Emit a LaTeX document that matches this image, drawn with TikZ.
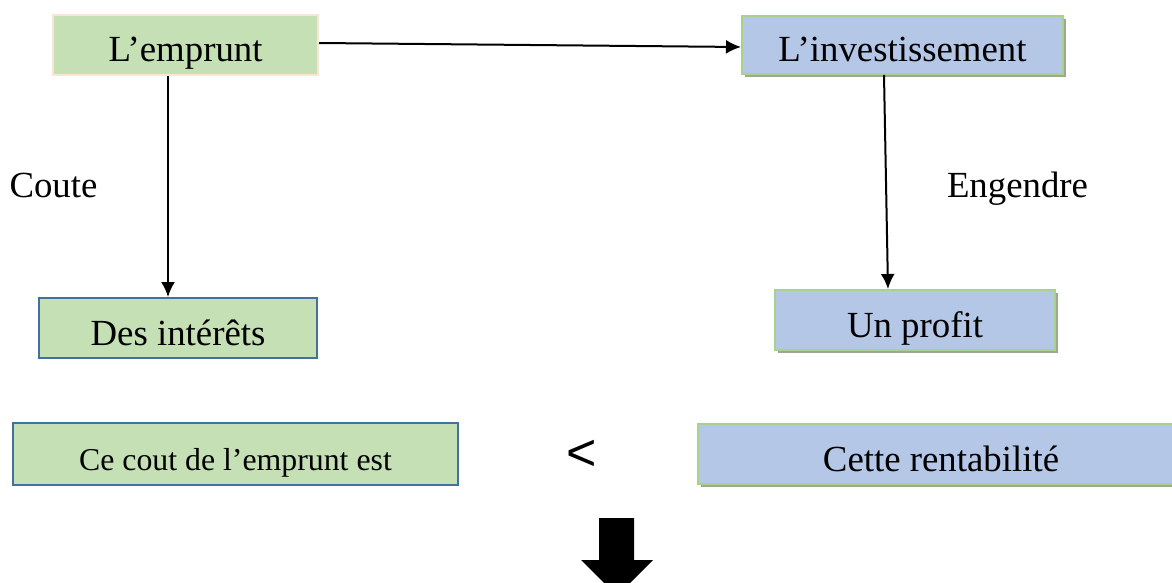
\documentclass[tikz,border=0pt]{standalone}
\usepackage{fontspec}
\setmainfont{Liberation Serif}
\newfontfamily\ltsans{Liberation Sans}
\usetikzlibrary{arrows.meta,calc,shadows}
\definecolor{boxgreen}{HTML}{C5E0B4}
\definecolor{boxblue}{HTML}{B4C7E7}
\definecolor{edgegreen}{HTML}{A9D18E}
\definecolor{edgeblue}{HTML}{41719C}
\definecolor{edgepeach}{HTML}{FBE5D6}
\definecolor{shadowgray}{HTML}{9CA98F}
\tikzset{
  box/.style={minimum height=30pt, inner sep=0pt, line width=1pt,
    text height=17pt, text depth=0pt,
    font=\fontsize{18.4}{22}\selectfont},
  greenbox/.style={box, fill=boxgreen, draw=edgeblue},
  bluebox/.style={box, fill=boxblue, draw=edgegreen,
    drop shadow={shadow xshift=1.5pt, shadow yshift=-1.5pt, fill=shadowgray, opacity=1}},
  link/.style={-{Latex[length=7.5pt,width=7pt]}, line width=1pt},
  lbl/.style={font=\fontsize{18.4}{22}\selectfont, anchor=base, inner sep=0pt}
}
\begin{document}
\begin{tikzpicture}[x=0.5pt,y=-0.5pt]
  \useasboundingbox (0,0) rectangle (1172,583);

  % top row
  \node[greenbox, draw=edgepeach, minimum width=132.5pt] (emprunt) at (185.5,45) {L’emprunt};
  \node[bluebox, minimum width=160.5pt, minimum height=29pt] (invest) at (902.5,45) {L’investissement};

  % middle row
  \node[greenbox, minimum width=139pt] (interets) at (178,328) {Des intérêts};
  \node[bluebox, minimum width=140pt] (profit) at (915,320) {Un profit};

  \node[lbl] (coute) at (53.5,197) {Coute};
  \node[lbl] (engendre) at (1017.5,197) {Engendre};

  % comparison
  \node[greenbox, minimum width=222.5pt, minimum height=31pt, text height=16pt,
    font=\fontsize{15.9}{19}\selectfont] (cout) at (235.5,454) {Ce cout de l’emprunt est};
  \node[font=\ltsans\fontsize{26}{30}\selectfont, inner sep=0pt] (lt) at (582,455) {<};
  \node[bluebox, minimum width=243pt] (rentab) at (941,454) {Cette rentabilité};

  \draw[link] ([yshift=1pt]emprunt.east) -- ([yshift=-1pt]invest.west);
  \draw[link] ($(emprunt.south)+(-17.5,0)$) -- ($(interets.north)+(-10,0)$);
  \draw[link] ($(invest.south)+(-18.5,0)$) -- ($(profit.north)+(-27,0)$);

  % big arrow
  \fill (599,518) -- (634,518) -- (634,560) -- (653,560) -- (617,596)
    -- (581,560) -- (599,560) -- cycle;
\end{tikzpicture}
\end{document}
